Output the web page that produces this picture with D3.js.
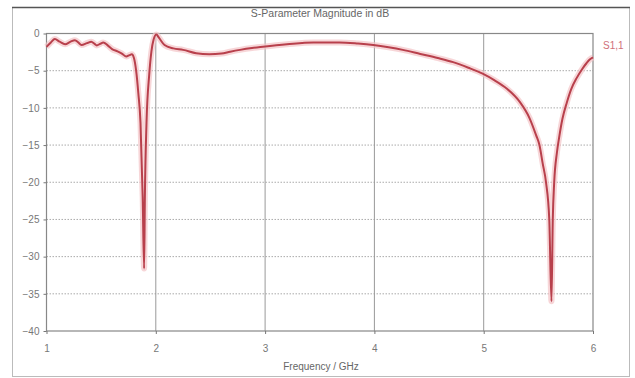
<!DOCTYPE html>
<html>
<head>
<meta charset="utf-8">
<script src="https://cdn.jsdelivr.net/npm/d3@7"></script>
<style>
  body { margin: 0; background: #fff; }
  text { font-family: "Liberation Sans", Arial, sans-serif; }
</style>
</head>
<body>
<svg id="chart" width="635" height="378"></svg>
<script>
// S1,1 magnitude
const freq = [1.00, 1.04, 1.076, 1.12, 1.17, 1.22, 1.26, 1.29, 1.32, 1.37, 1.41, 1.44, 1.46, 1.49, 1.52,
  1.56, 1.60, 1.65, 1.69, 1.73, 1.76, 1.78, 1.80, 1.82, 1.84, 1.86, 1.88, 1.893, 1.90, 1.915, 1.94,
  1.96, 1.98, 2.005, 2.03, 2.08, 2.16, 2.25, 2.37, 2.49, 2.60, 2.68, 2.77, 2.88, 2.98, 3.2, 3.44,
  3.68, 3.85, 3.99, 4.13, 4.26, 4.42, 4.58, 4.72, 4.86, 4.99, 5.10, 5.21, 5.33, 5.42, 5.48, 5.51,
  5.54, 5.57, 5.60, 5.62, 5.632, 5.645, 5.67, 5.69, 5.72, 5.76, 5.80, 5.85, 5.90, 5.94, 5.97, 6.00];
const s11 = [-1.8, -1.2, -0.75, -1.1, -1.45, -1.1, -0.9, -1.2, -1.55, -1.3, -1.1, -1.4, -1.6, -1.4, -1.2,
  -1.6, -2.1, -2.4, -2.7, -3.1, -2.9, -2.8, -3.3, -5.0, -8.0, -12.0, -22.0, -31.6, -22.0, -12.0, -5.5,
  -2.4, -0.8, -0.15, -0.6, -1.55, -2.0, -2.2, -2.65, -2.8, -2.7, -2.45, -2.2, -1.95, -1.78, -1.45, -1.2,
  -1.2, -1.35, -1.55, -1.85, -2.2, -2.75, -3.3, -3.85, -4.6, -5.4, -6.3, -7.4, -9.2, -11.4, -13.7, -15.0,
  -17.5, -20.0, -25.0, -36.0, -25.0, -20.0, -16.0, -14.0, -11.5, -9.3, -7.5, -6.0, -4.8, -4.0, -3.5, -3.2];

const xTicks = [1, 2, 3, 4, 5, 6];
const yTicks = [0, -5, -10, -15, -20, -25, -30, -35, -40];
const title = "S-Parameter Magnitude in dB";
const xTitle = "Frequency / GHz";
const seriesName = "S1,1";

const data = freq.map((f, i) => ({ f: f, v: s11[i] }));

const svg = d3.select("#chart"),
    margin = { top: 33.5, right: 42, bottom: 47, left: 46.5 },
    width = +svg.attr("width") - margin.left - margin.right,
    height = +svg.attr("height") - margin.top - margin.bottom;

// outer frame
svg.append("rect")
    .attr("x", 12.5).attr("y", 7.5).attr("width", 617).attr("height", 369)
    .attr("fill", "#fff").attr("stroke", "#bbb");
svg.append("line")
    .attr("x1", 12).attr("x2", 630).attr("y1", 7.5).attr("y2", 7.5)
    .attr("stroke", "#555").attr("stroke-width", 1.5);

svg.append("text")
    .attr("x", 320).attr("y", 17)
    .attr("text-anchor", "middle")
    .attr("font-size", 10.5).attr("fill", "#666")
    .text(title);

const g = svg.append("g").attr("transform", "translate(" + margin.left + "," + margin.top + ")");

const x = d3.scaleLinear().domain([1, 6]).range([0, width]);
const y = d3.scaleLinear().domain([-40, 0]).range([height, 0]);

// grid
g.selectAll(".hgrid").data(yTicks.filter(d => d > -40 && d < 0)).join("line")
    .attr("x1", 0).attr("x2", width)
    .attr("y1", d => y(d)).attr("y2", d => y(d))
    .attr("stroke", "#aaa").attr("stroke-dasharray", "1.5,1.5");
g.selectAll(".vgrid").data(xTicks.filter(d => d > 1 && d < 6)).join("line")
    .attr("x1", d => x(d)).attr("x2", d => x(d))
    .attr("y1", 0).attr("y2", height)
    .attr("stroke", "#999");

// plot frame
g.append("rect")
    .attr("width", width).attr("height", height)
    .attr("fill", "none").attr("stroke", "#888").attr("stroke-width", 1.2);

// axes
const xAxis = g.append("g")
    .attr("transform", "translate(0," + height + ")")
    .call(d3.axisBottom(x).tickValues(xTicks).tickFormat(d3.format("d")).tickSize(3));
const yAxis = g.append("g")
    .call(d3.axisLeft(y).tickValues(yTicks).tickFormat(d3.format("d")).tickSize(3));
[xAxis, yAxis].forEach(a => {
    a.select(".domain").remove();
    a.selectAll("line").attr("stroke", "#777");
    a.selectAll("text").attr("fill", "#777").attr("font-size", 10);
});
xAxis.selectAll("text").attr("dy", "1.5em");
yAxis.selectAll("text").attr("x", -7);

svg.append("text")
    .attr("x", 321).attr("y", 370)
    .attr("text-anchor", "middle")
    .attr("font-size", 10).attr("fill", "#666")
    .text(xTitle);

// curve with a soft halo
const line = d3.line()
    .x(d => x(d.f))
    .y(d => y(d.v))
    .curve(d3.curveMonotoneX);

g.append("path").datum(data)
    .attr("d", line)
    .attr("fill", "none").attr("stroke", "#f4c4c8").attr("stroke-width", 6)
    .attr("stroke-linejoin", "round").attr("opacity", 0.7);
g.append("path").datum(data)
    .attr("d", line)
    .attr("fill", "none").attr("stroke", "#b8404c").attr("stroke-width", 2)
    .attr("stroke-linejoin", "round");

svg.append("text")
    .attr("x", 603).attr("y", 49)
    .attr("font-size", 10).attr("fill", "#d0707a")
    .text(seriesName);
</script>
</body>
</html>
